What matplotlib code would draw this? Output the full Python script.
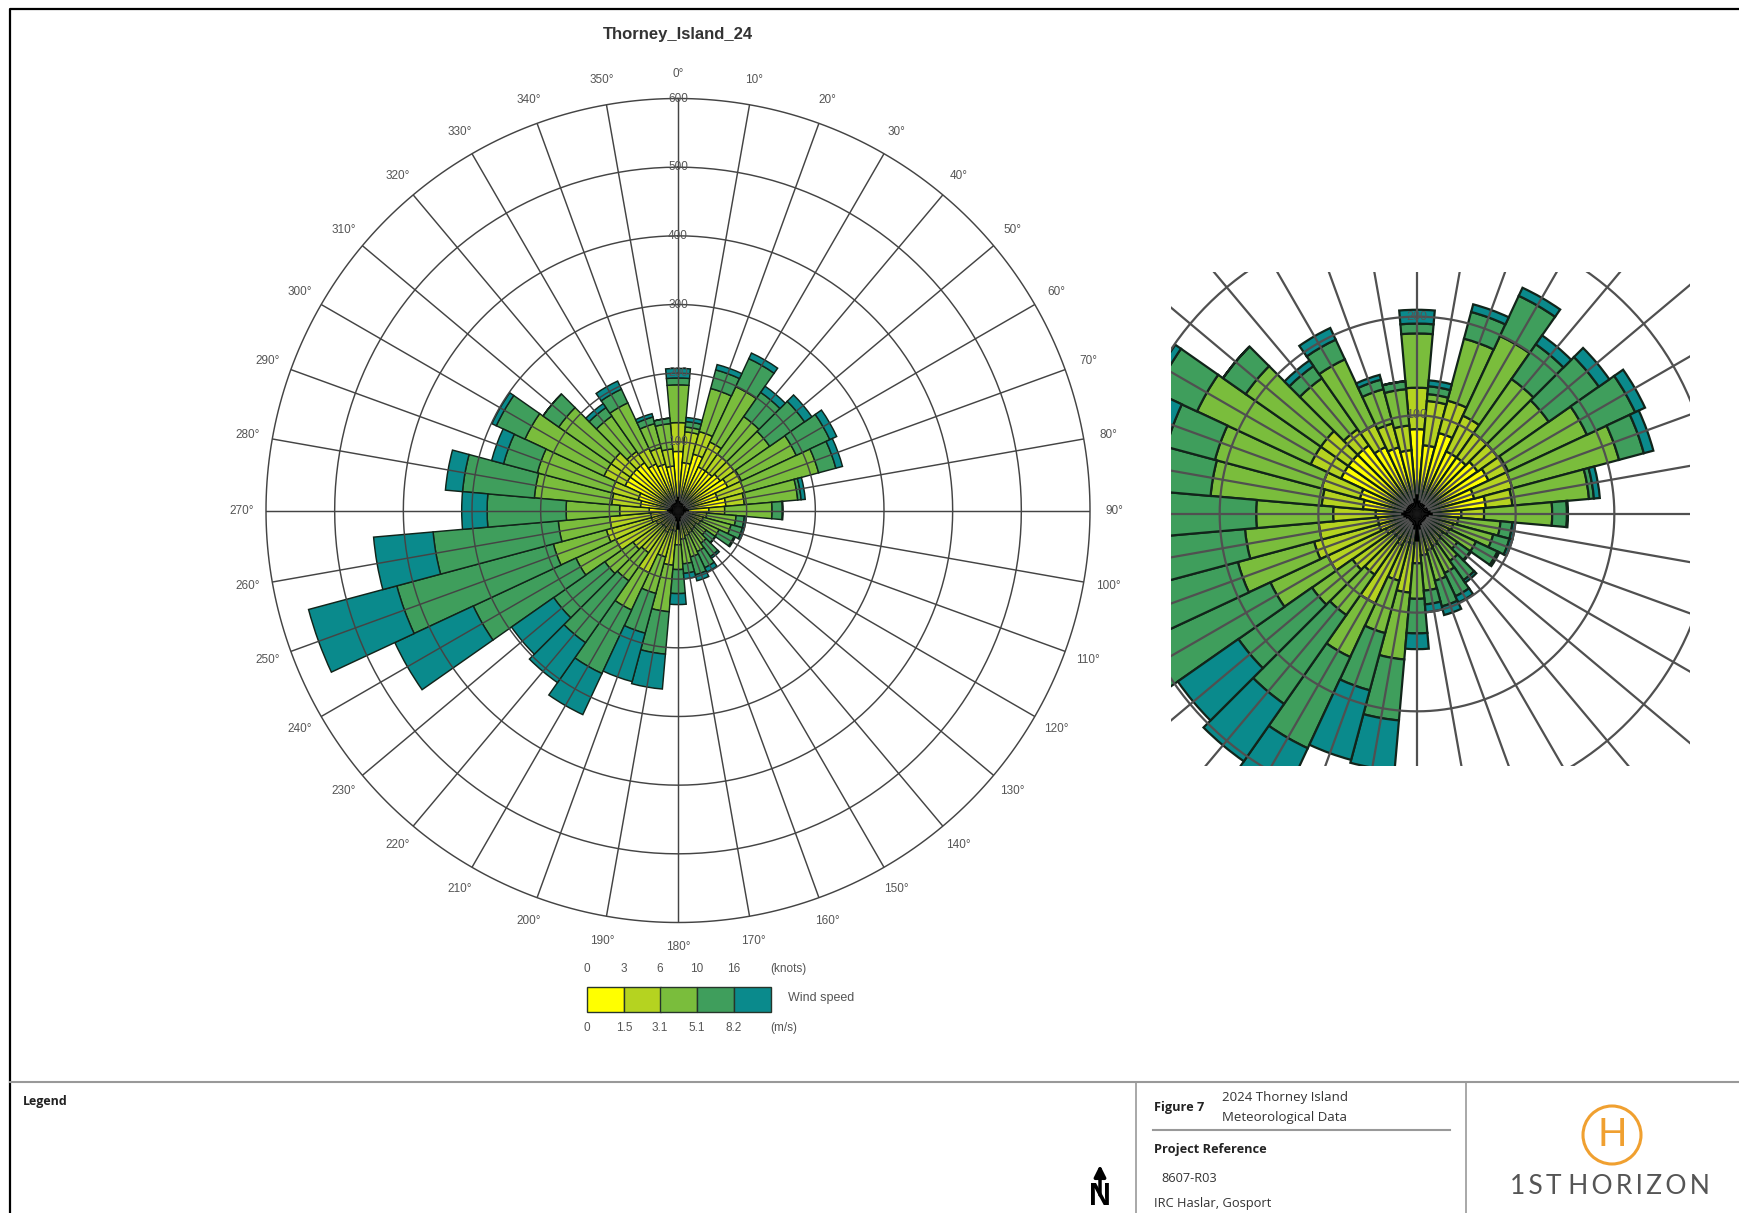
import numpy as np
import matplotlib
matplotlib.use("Agg")
import matplotlib.pyplot as plt
from matplotlib.patches import Rectangle, Circle

plt.rcParams['font.family'] = ['Liberation Sans', 'DejaVu Sans']

# wind direction in degrees, one bar per direction
directions = list(range(0, 360, 10))

# outer edge of each speed class, cumulative hours
yellow_end = [86, 70, 85, 70, 70, 75, 80, 60, 70, 45, 22, 18, 16, 15, 15, 16, 18, 20,
              22, 30, 30, 35, 30, 30, 35, 40, 40, 42, 55, 60, 85, 85, 85, 75, 70, 65]
lime_end = [128, 115, 119, 110, 100, 100, 102, 100, 97, 68, 42, 38, 36, 32, 34, 36, 38, 42,
            50, 80, 70, 100, 75, 80, 100, 108, 100, 85, 97, 100, 119, 119, 105, 100, 95, 90]
green_end = [183, 122, 184, 199, 167, 163, 190, 212, 175, 137, 85, 80, 66, 50, 58, 66, 70, 78,
             86, 148, 125, 160, 125, 130, 164, 188, 175, 163, 210, 212, 246, 212, 168, 173, 131, 127]
darkgreen_end = [193, 130, 212, 244, 210, 225, 244, 238, 180, 152, 97, 97, 90, 66, 82, 92, 97, 92,
                 121, 210, 185, 262, 235, 221, 329, 424, 358, 278, 315, 263, 292, 240, 183, 195, 141, 135]
teal_end = [207, 136, 220, 253, 221, 238, 255, 248, 186, 153, 100, 100, 92, 67, 85, 99, 106, 100,
            137, 261, 258, 328, 306, 296, 455, 557, 445, 315, 340, 281, 299, 240, 190, 208, 146, 135]

# black knot at the centre, where the edges run together
centre_knot = [20, 14, 12, 12, 12, 10, 12, 12, 14, 16, 12, 10, 10, 10, 10, 10, 12, 16,
               28, 16, 12, 10, 10, 10, 10, 12, 14, 16, 14, 12, 12, 12, 12, 12, 12, 16]

class_ends = [yellow_end, lime_end, green_end, darkgreen_end, teal_end]
class_colors = ['#ffff00', '#b5d320', '#7abd3c', '#3f9e5c', '#0a8a8c']

ring_values = [100, 200, 300, 400, 500, 600]
knots_labels = ['0', '3', '6', '10', '16']
ms_labels = ['0', '1.5', '3.1', '5.1', '8.2']

W, H = 1740, 1213
fig = plt.figure(figsize=(W / 100, H / 100), dpi=100)

# page overlay in reference pixels
page = fig.add_axes([0, 0, 1, 1])
page.set_xlim(0, W)
page.set_ylim(H, 0)
page.axis('off')


def polar_axes(cx, cy, radius):
    ax = fig.add_axes([(cx - radius) / W, 1 - (cy + radius) / H, 2 * radius / W, 2 * radius / H],
                      projection='polar')
    ax.set_theta_zero_location('N')
    ax.set_theta_direction(-1)
    ax.set_ylim(0, 600)
    ax.axis('off')
    ax.patch.set_alpha(0)
    return ax


def draw_rose(ax, line_w, grid_color, font, labelled, clip=None):
    artists = []
    theta = np.deg2rad(directions)
    bottom = np.zeros(len(directions))
    for ends, col in zip(class_ends, class_colors):
        ends = np.array(ends, dtype=float)
        bars = ax.bar(theta, ends - bottom, width=np.deg2rad(10), bottom=bottom, color=col,
                      edgecolor='#12241a', linewidth=line_w, zorder=2)
        artists.extend(bars)
        bottom = ends
    ring_t = np.linspace(0, 2 * np.pi, 361)
    for r in ring_values:
        artists.extend(ax.plot(ring_t, np.full(361, r), color=grid_color, lw=line_w, zorder=3,
                               clip_on=False))
    for t in theta:
        artists.extend(ax.plot([t, t], [0, 600], color=grid_color, lw=line_w, zorder=3))
    for r in labelled:
        artists.append(ax.text(0, r, str(r), ha='center', va='center', fontsize=font,
                               color='#555555', zorder=4))
    artists.extend(ax.bar(theta, centre_knot, width=np.deg2rad(10), color='black', zorder=5))
    if clip is not None:
        for a in artists:
            a.set_clip_on(True)
            a.set_clip_path(clip)


main = polar_axes(678, 510.5, 412)
draw_rose(main, 1.05, '#444444', 8.5, ring_values)
for d in directions:
    main.text(np.deg2rad(d), 636, f'{d}°', ha='center', va='center', fontsize=8.5,
              color='#555555', clip_on=False)

inset = polar_axes(1417, 514, 592)
clip_box = Rectangle((1171, 272), 519, 494, transform=page.transData)
draw_rose(inset, 1.6, '#505050', 9, [100, 200], clip=clip_box)

page.text(678, 35, 'Thorney_Island_24', ha='center', va='center', fontsize=12,
          fontweight='bold', color='#333333')

# wind speed key
key_x = [587, 624, 660, 697, 734]
for x, col in zip(key_x, class_colors):
    page.add_patch(Rectangle((x, 987), 37, 25, facecolor=col, edgecolor='#26352a', lw=1))
for x, k, m in zip(key_x, knots_labels, ms_labels):
    page.text(x, 969, k, ha='center', va='center', fontsize=8.5, color='#555555')
    page.text(x, 1028, m, ha='center', va='center', fontsize=8.5, color='#555555')
page.text(770, 969, '(knots)', ha='left', va='center', fontsize=8.5, color='#555555')
page.text(770, 1028, '(m/s)', ha='left', va='center', fontsize=8.5, color='#555555')
page.text(788, 998, 'Wind speed', ha='left', va='center', fontsize=9, color='#555555')

# page frame and title block
page.plot([10, 10, W], [H, 9, 9], color='black', lw=1.6)
page.plot([10, W], [1082, 1082], color='#999999', lw=1.5)
page.plot([1136, 1136], [1082, H], color='#999999', lw=1.2)
page.plot([1466, 1466], [1082, H], color='#999999', lw=1.2)
page.plot([1153, 1450], [1130, 1130], color='#999999', lw=1.5)

block_font = ['Open Sans', 'DejaVu Sans']
page.text(23, 1102, 'Legend', ha='left', va='center', fontsize=9, fontweight='bold',
          family=block_font, color='#222222')
page.text(1154, 1108, 'Figure 7', ha='left', va='center', fontsize=9.2, fontweight='bold',
          family=block_font, color='#222222')
page.text(1222, 1098, '2024 Thorney Island', ha='left', va='center', fontsize=9.5,
          family=block_font, color='#333333')
page.text(1222, 1117, 'Meteorological Data', ha='left', va='center', fontsize=9.5,
          family=block_font, color='#333333')
page.text(1154, 1150, 'Project Reference', ha='left', va='center', fontsize=9.2, fontweight='bold',
          family=block_font, color='#222222')
page.text(1161, 1178, '8607-R03', ha='left', va='center', fontsize=9.2,
          family=block_font, color='#333333')
page.text(1154, 1203, 'IRC Haslar, Gosport', ha='left', va='center', fontsize=9.3,
          family=block_font, color='#333333')

# north arrow
page.annotate('', xy=(1100, 1165), xytext=(1100, 1195),
              arrowprops=dict(arrowstyle='-|>', color='black', lw=2.5, mutation_scale=17,
                              shrinkA=0, shrinkB=0))
page.text(1100, 1197, 'N', ha='center', va='center', fontsize=22, fontweight='bold', color='black')

# logo
page.add_patch(Circle((1612, 1135), 29, fill=False, edgecolor='#f0a030', lw=2.2))
page.text(1612, 1135, 'H', ha='center', va='center', fontsize=28, color='#f0a030',
          family=['Lato', 'DejaVu Sans'])
page.text(1610, 1186, '1\u2009S\u2009T H\u2009O\u2009R\u2009I\u2009Z\u2009O\u2009N', ha='center', va='center',
          fontsize=19, color='#555555', family=['Lato', 'DejaVu Sans'])

fig.savefig('out.png', dpi=100)
